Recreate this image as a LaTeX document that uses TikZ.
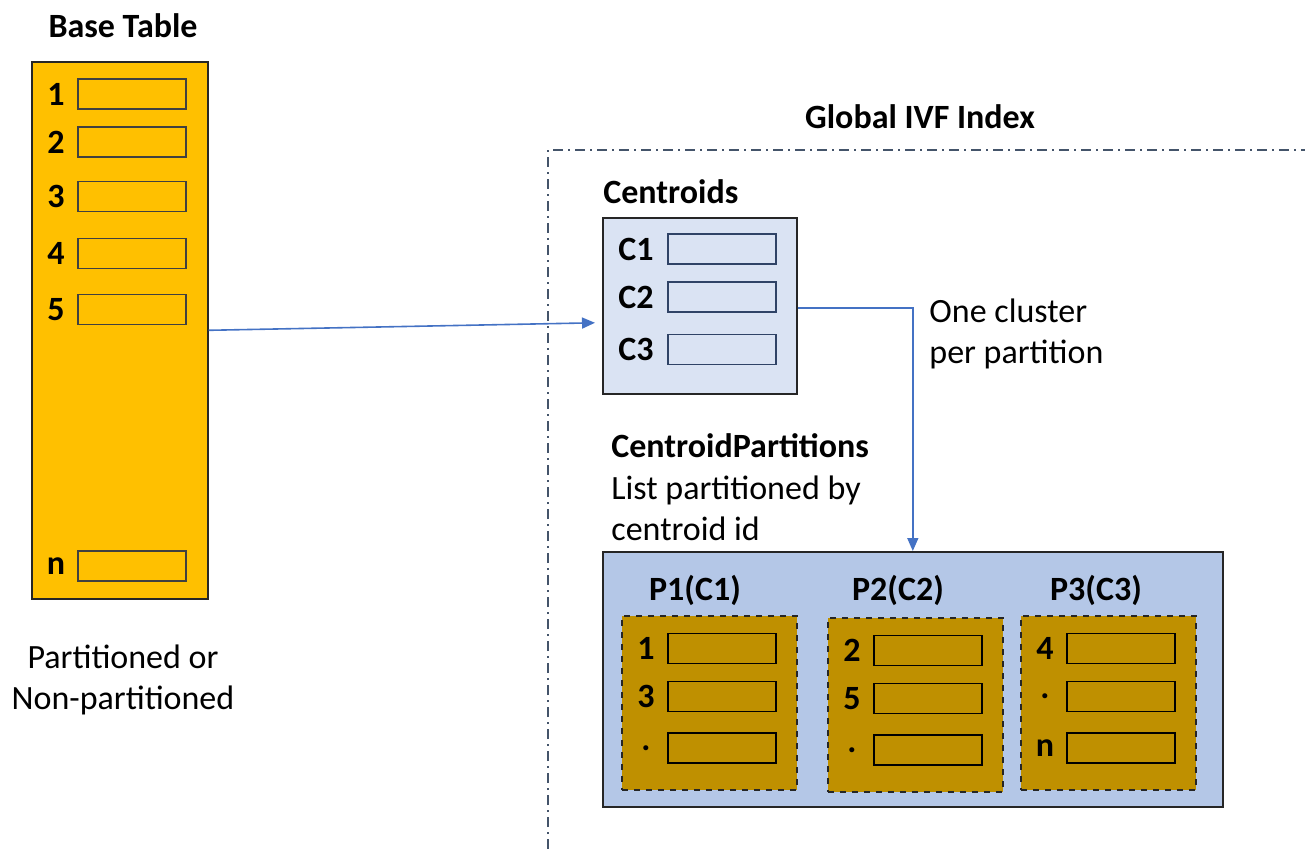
\documentclass[tikz,border=0pt]{standalone}
\usepackage{fontspec}
\setmainfont{Carlito}
\usetikzlibrary{positioning,arrows.meta}

\definecolor{baseyellow}{HTML}{FFC000}
\definecolor{partgold}{HTML}{BF9000}
\definecolor{centfill}{HTML}{DAE3F3}
\definecolor{partfill}{HTML}{B4C7E7}
\definecolor{linkblue}{HTML}{4472C4}
\definecolor{framenavy}{HTML}{44546A}
\definecolor{cellgray}{HTML}{404040}
\definecolor{cellnavy}{HTML}{2F4366}

\begin{document}
\begin{tikzpicture}[x=0.5pt,y=-0.5pt]
		\tikzset{every node/.style={font=\fontsize{17}{20.5}\selectfont},
			box/.style={draw=black!85, line width=0.8pt, anchor=north west, inner sep=0pt},
			cell/.style={draw=#1, line width=0.7pt, minimum width=54pt, minimum height=15pt, inner sep=0pt},
			rowlab/.style={font=\fontsize{17}{20.5}\selectfont\bfseries, inner sep=0pt},
			title/.style={font=\fontsize{17}{20.5}\selectfont\bfseries, inner sep=0pt},
			plain/.style={align=left, inner sep=0pt, anchor=west},
			link/.style={draw=linkblue, line width=0.8pt, -{Triangle[length=6.5pt,width=5.5pt]}}}
		\useasboundingbox (0,0) rectangle (1305,849);
		% base table
		\node[title] (basetitle) at (123,26) {Base Table};
		\node[box, fill=baseyellow, minimum width=88pt, minimum height=268.5pt] (base) at (31,61) {};
		\foreach \lab/\y in {1/94,2/142,3/196.5,4/253.5,5/309.5,n/566}{
			\node[cell=cellgray] (b-\lab) at (132,\y) {};
			\node[rowlab] (bl-\lab) at (56,\y) {\lab};
		}
		\node[align=center, inner sep=0pt] (baseinfo) at (123,680) {Partitioned or\\Non-partitioned};
		% global index frame
		\node[title] (ivftitle) at (920,117) {Global IVF Index};
		\draw[framenavy, line width=0.7pt, dash pattern=on 5pt off 2.5pt on 1pt off 2.5pt] (548,849) -- (548,150) -- (1305,150);
		% centroids
		\node[title, anchor=west] (centtitle) at (603,192) {Centroids};
		\node[box, fill=centfill, minimum width=97pt, minimum height=88pt] (cent) at (602,217) {};
		\foreach \lab/\y in {C1/249,C2/297,C3/349.5}{
			\node[cell=cellnavy] (c-\lab) at (722,\y) {};
			\node[rowlab] (cl-\lab) at (636,\y) {\lab};
		}
		\node[plain] (clusternote) at (929,334) {One cluster\\per partition};
		% partitions
		\node[title, anchor=west] (parttitle) at (611,446) {CentroidPartitions};
		\node[plain] (partnote) at (611,508) {List partitioned by\\centroid id};
		\node[box, fill=partfill, minimum width=310pt, minimum height=127.5pt] (parts) at (602,551) {};
		\foreach \p/\bx/\by/\tx/\dy/\la/\lb/\lc in {1/621/615/695/0/1/3/.,2/827/617/898/2/2/5/.,3/1020/615/1096/0/4/./n}{
			\node[title] (pt-\p) at (\tx,590) {P\p(C\p)};
			\node[box, dashed, fill=partgold, minimum width=87.5pt, minimum height=87pt] (p-\p) at (\bx,\by) {};
			\node[cell=black] (p-\p-a) at (\bx+101,648.5+\dy) {};
			\node[cell=black] (p-\p-b) at (\bx+101,696.5+\dy) {};
			\node[cell=black] (p-\p-c) at (\bx+101,748+\dy) {};
			\node[rowlab] at (\bx+25,648.5+\dy) {\la};
			\node[rowlab] at (\bx+25,696.5+\dy) {\lb};
			\node[rowlab] at (\bx+25,748+\dy) {\lc};
		}
		% connectors
		\draw[link] (base.east) -- ([xshift=-3.5pt,yshift=-8.5pt]cent.west);
		\draw[link] ([yshift=-1pt]cent.east) -| (parts.north);
\end{tikzpicture}
\end{document}
